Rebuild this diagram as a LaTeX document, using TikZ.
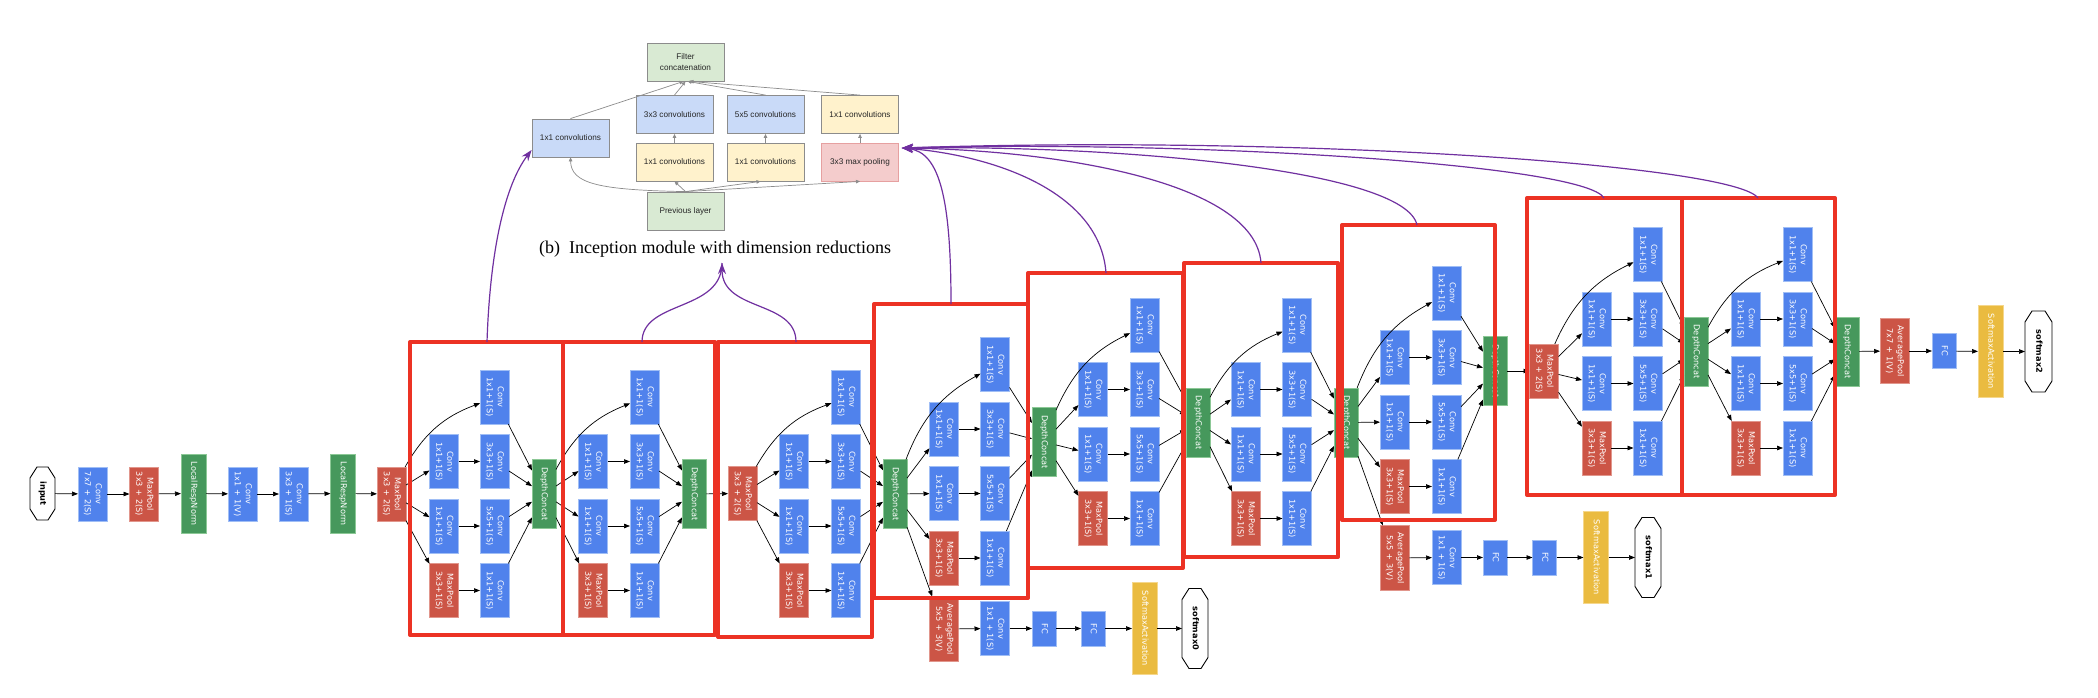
\documentclass[tikz,border=0pt]{standalone}
\usepackage{fontspec}
\setmainfont{Liberation Serif}
\newfontfamily\djv{DejaVu Sans}
\newfontfamily\lsans{Liberation Sans}
\usetikzlibrary{arrows.meta}
\definecolor{gblue}{RGB}{80,130,236}
\definecolor{gblueb}{RGB}{160,190,245}
\definecolor{gred}{RGB}{204,85,70}
\definecolor{gredb}{RGB}{225,150,140}
\definecolor{ggreen}{RGB}{70,152,92}
\definecolor{ggreenb}{RGB}{140,200,150}
\definecolor{gyel}{RGB}{234,187,64}
\definecolor{gyelb}{RGB}{245,215,140}
\definecolor{rboxc}{RGB}{236,50,36}
\definecolor{ppurple}{RGB}{112,48,160}
\definecolor{mgreen}{RGB}{217,234,211}
\definecolor{mblue}{RGB}{201,218,248}
\definecolor{myel}{RGB}{255,242,204}
\definecolor{mpink}{RGB}{244,204,204}
\definecolor{mpinkb}{RGB}{230,160,160}
\definecolor{mgray}{RGB}{140,140,140}
\newcommand{\rtext}[1]{\rotatebox{-90}{\begin{tabular}{@{}c@{}}#1\end{tabular}}}
\newcommand{\nfont}{\djv\fontsize{8.2}{11}\selectfont}
\newcommand{\mfont}{\lsans\fontsize{8.2}{10.5}\selectfont}
\newcommand{\capfont}{\rmfamily\fontsize{18}{20}\selectfont}
\tikzset{
  nbase/.style={rectangle, inner sep=0pt, outer sep=0pt, line width=0.8pt, text=white, font=\nfont},
  bl/.style={nbase, fill=gblue, draw=gblueb, minimum width=29pt, minimum height=54pt},
  rd/.style={nbase, fill=gred, draw=gredb, minimum width=29pt, minimum height=54pt},
  apool/.style={nbase, fill=gred, draw=gredb, minimum width=29pt, minimum height=65pt},
  gc/.style={nbase, fill=ggreen, draw=ggreenb, minimum width=24pt, minimum height=69pt},
  lrn/.style={nbase, fill=ggreen, draw=ggreenb, minimum width=25pt, minimum height=79pt},
  fcn/.style={nbase, fill=gblue, draw=gblueb, minimum width=24pt, minimum height=35pt},
  sma/.style={nbase, fill=gyel, draw=gyelb, minimum width=25pt, minimum height=92pt},
  oct/.style={rectangle, inner sep=0pt, outer sep=0pt, text=black, font=\nfont},
  octl/.style={draw=black, line width=0.9pt, line join=round},
  arr/.style={-{Triangle[length=6pt,width=4.5pt]}, line width=0.7pt, black},
  rbox/.style={draw=rboxc, line width=4pt, line join=round},
  parr/.style={-{Stealth[length=11pt,width=8pt]}, line width=1.2pt, ppurple},
  pline/.style={line width=1.2pt, ppurple},
  mbox/.style={rectangle, draw=mgray, line width=0.8pt, minimum width=77pt, minimum height=38pt, inner sep=1pt, font=\mfont, text=black!85, align=center},
  marr/.style={-{Triangle[length=4pt,width=3.5pt]}, line width=0.7pt, mgray}
}
\newcommand{\octo}[6]{%
  \node[oct, minimum width=#4pt, minimum height=#5pt] (#1) at (#2,-#3) {\rtext{\bfseries #6}};
  \draw[octl] ([xshift=7pt]#1.north west) -- ([xshift=-7pt]#1.north east) -- ([yshift=-11pt]#1.north east) -- ([yshift=11pt]#1.south east) -- ([xshift=-7pt]#1.south east) -- ([xshift=7pt]#1.south west) -- ([yshift=11pt]#1.south west) -- ([yshift=-11pt]#1.north west) -- cycle;}
\newcommand{\incb}[7]{%
  \pgfmathsetmacro{\ya}{#7}\pgfmathsetmacro{\yb}{#7+64.5}%
  \pgfmathsetmacro{\yc}{#7+129}\pgfmathsetmacro{\yd}{#7+193.5}%
  \node[bl] (#1-t) at (#4,-\ya) {\rtext{Conv\\1x1+1(S)}};
  \node[bl] (#1-l2) at (#3,-\yb) {\rtext{Conv\\1x1+1(S)}};
  \node[bl] (#1-r2) at (#4,-\yb) {\rtext{Conv\\3x3+1(S)}};
  \node[bl] (#1-l3) at (#3,-\yc) {\rtext{Conv\\1x1+1(S)}};
  \node[bl] (#1-r3) at (#4,-\yc) {\rtext{Conv\\5x5+1(S)}};
  \node[rd] (#1-l4) at (#3,-\yd) {\rtext{MaxPool\\3x3+1(S)}};
  \node[bl] (#1-r4) at (#4,-\yd) {\rtext{Conv\\1x1+1(S)}};
  \node[gc] (#1-c) at (#5,-#6) {\rtext{DepthConcat}};
  \draw[arr] (#2) to[bend left=20] (#1-t);
  \draw[arr] (#2) -- (#1-l2);
  \draw[arr] (#2) -- (#1-l3);
  \draw[arr] (#2) -- (#1-l4);
  \draw[arr] (#1-l2) -- (#1-r2);
  \draw[arr] (#1-l3) -- (#1-r3);
  \draw[arr] (#1-l4) -- (#1-r4);
  \draw[arr] (#1-t) -- (#1-c);
  \draw[arr] (#1-r2) -- (#1-c);
  \draw[arr] (#1-r3) -- (#1-c);
  \draw[arr] (#1-r4) -- (#1-c);}
\begin{document}
\begin{tikzpicture}[x=1pt,y=1pt]
\useasboundingbox[fill=white] (0,0) rectangle (2098,-698);
% stem
\octo{in0}{42.5}{493.5}{25}{53}{input}
\node[bl] (cv1) at (92.5,-494) {\rtext{Conv\\7x7 + 2(S)}};
\node[rd] (mp1) at (144,-494) {\rtext{MaxPool\\3x3 + 2(S)}};
\node[lrn] (lrn1) at (193.5,-493.5) {\rtext{LocalRespNorm}};
\node[bl] (cv2) at (242.5,-494) {\rtext{Conv\\1x1 + 1(V)}};
\node[bl] (cv3) at (293.5,-494) {\rtext{Conv\\3x3 + 1(S)}};
\node[lrn] (lrn2) at (343,-493.5) {\rtext{LocalRespNorm}};
\node[rd] (mp2) at (391.5,-494) {\rtext{MaxPool\\3x3 + 2(S)}};
\draw[arr] (in0) -- (cv1);
\draw[arr] (cv1) -- (mp1);
\draw[arr] (mp1) -- (lrn1);
\draw[arr] (lrn1) -- (cv2);
\draw[arr] (cv2) -- (cv3);
\draw[arr] (cv3) -- (lrn2);
\draw[arr] (lrn2) -- (mp2);
% inception blocks
\incb{a}{mp2}{444}{494.5}{544}{494}{397}
\incb{b}{a-c}{593}{644.5}{694}{494}{397}
\node[rd] (mp3) at (742.5,-493.5) {\rtext{MaxPool\\3x3 + 2(S)}};
\draw[arr] (b-c) -- (mp3);
\incb{c}{mp3}{794}{846}{895}{494}{397}
\incb{d}{c-c}{944}{995}{1044}{442}{364.5}
\incb{e}{d-c}{1093}{1144.5}{1198}{422.5}{325}
\incb{f}{e-c}{1245.5}{1297}{1346}{422.5}{325}
\incb{g}{f-c}{1394.5}{1446.5}{1495}{371}{293}
\node[rd] (mp4) at (1544,-371) {\rtext{MaxPool\\3x3 + 2(S)}};
\draw[arr] (g-c) -- (mp4);
\incb{h}{mp4}{1596.5}{1648}{1696}{351.5}{254.5}
\incb{i}{h-c}{1745.5}{1797.5}{1847}{351.5}{254.5}
% head
\node[apool] (ap2) at (1894.5,-351) {\rtext{AveragePool\\7x7 + 1(V)}};
\node[fcn] (fc2) at (1944,-351) {\rtext{FC}};
\node[sma] (sa2) at (1990.5,-351.5) {\rtext{SoftmaxActivation}};
\octo{sm2}{2038.5}{351.5}{27}{81}{softmax2}
\draw[arr] (i-c) -- (ap2);
\draw[arr] (ap2) -- (fc2);
\draw[arr] (fc2) -- (sa2);
\draw[arr] (sa2) -- (sm2);
% aux 0
\node[apool] (ap0) at (944,-629) {\rtext{AveragePool\\5x5 + 3(V)}};
\node[bl] (cx0) at (995,-628.5) {\rtext{Conv\\1x1 + 1(S)}};
\node[fcn] (fa0) at (1044,-628.5) {\rtext{FC}};
\node[fcn] (fb0) at (1093,-628.5) {\rtext{FC}};
\node[sma] (sa0) at (1144.5,-628.5) {\rtext{SoftmaxActivation}};
\octo{sm0}{1195}{628.5}{26}{80}{softmax0}
\draw[arr] (c-c) -- (ap0);
\draw[arr] (ap0) -- (cx0);
\draw[arr] (cx0) -- (fa0);
\draw[arr] (fa0) -- (fb0);
\draw[arr] (fb0) -- (sa0);
\draw[arr] (sa0) -- (sm0);
% aux 1
\node[apool] (ap1) at (1394.5,-558) {\rtext{AveragePool\\5x5 + 3(V)}};
\node[bl] (cx1) at (1446.5,-557.5) {\rtext{Conv\\1x1 + 1(S)}};
\node[fcn] (fa1) at (1495,-557.5) {\rtext{FC}};
\node[fcn] (fb1) at (1544.5,-557.5) {\rtext{FC}};
\node[sma] (sa1) at (1596,-557.5) {\rtext{SoftmaxActivation}};
\octo{sm1}{1648}{557.5}{26}{80}{softmax1}
\draw[arr] (f-c) -- (ap1);
\draw[arr] (ap1) -- (cx1);
\draw[arr] (cx1) -- (fa1);
\draw[arr] (fa1) -- (fb1);
\draw[arr] (fb1) -- (sa1);
\draw[arr] (sa1) -- (sm1);
% red boxes
\draw[rbox] (410,-342) rectangle (563,-635);
\draw[rbox] (563,-342) rectangle (715,-635);
\draw[rbox] (718,-342) rectangle (872,-637);
\draw[rbox] (874,-304) rectangle (1028,-598);
\draw[rbox] (1028,-273) rectangle (1183,-568);
\draw[rbox] (1184,-263) rectangle (1338,-557);
\draw[rbox] (1342,-225) rectangle (1495,-520);
\draw[rbox] (1527,-198) rectangle (1682,-495);
\draw[rbox] (1682,-198) rectangle (1835,-495);
% inception module diagram
\node[mbox, fill=mgreen] (fcat) at (685.5,-62) {Filter\\concatenation};
\node[mbox, fill=mblue] (m1) at (570.5,-138) {1x1 convolutions};
\node[mbox, fill=mblue] (m3) at (674.5,-114.5) {3x3 convolutions};
\node[mbox, fill=mblue] (m5) at (765.5,-114.5) {5x5 convolutions};
\node[mbox, fill=myel] (mc) at (860,-114.5) {1x1 convolutions};
\node[mbox, fill=myel] (m3r) at (674.5,-162) {1x1 convolutions};
\node[mbox, fill=myel] (m5r) at (765.5,-162) {1x1 convolutions};
\node[mbox, fill=mpink, draw=mpinkb] (mpl) at (860,-162) {3x3 max pooling};
\node[mbox, fill=mgreen] (prev) at (685.5,-211) {Previous layer};
\draw[marr] (prev.north) .. controls (600,-190) and (571,-184) .. (m1.south);
\draw[marr] (prev.north) -- (m3r.south);
\draw[marr] (prev.north) -- ([xshift=-5pt]m5r.south);
\draw[marr] (prev.north) -- (mpl.south);
\draw[marr] (m3r.north) -- (m3.south);
\draw[marr] (m5r.north) -- (m5.south);
\draw[marr] (mpl.north) -- (mc.south);
\draw[marr] (m1.north) -- ([xshift=-2pt]fcat.south);
\draw[marr] (m3.north) -- (fcat.south);
\draw[marr] (m5.north) -- ([xshift=2pt]fcat.south);
\draw[marr] (mc.north) -- ([xshift=4pt]fcat.south);
\node[font=\capfont, anchor=base, inner sep=0pt] (cap) at (715,-253) {(b)\enspace Inception module with dimension reductions};
% purple connectors
\coordinate (s1) at (487,-342);
\coordinate (s2) at (642,-342);
\coordinate (s3) at (796,-342);
\coordinate (s4) at (951,-304);
\coordinate (s5) at (1106,-273);
\coordinate (s6) at (1261,-263);
\coordinate (s7) at (1417,-225);
\coordinate (s8) at (1604,-198);
\coordinate (s9) at (1758,-198);
\coordinate (tm1) at ([yshift=-12pt]m1.west);
\coordinate (tmp) at ([xshift=3pt,yshift=14pt]mpl.east);
\coordinate (apex) at ([xshift=7pt,yshift=-10pt]cap.base);
\draw[parr] (s1) .. controls (490,-250) and (505,-185) .. (tm1);
\draw[pline] (s2) .. controls (642,-300) and (722,-312) .. (apex);
\draw[parr] (s3) .. controls (796,-300) and (722,-312) .. (apex);
\draw[parr] (s4) .. controls (951,-200) and (940,-152) .. (tmp);
\draw[parr] (s5) .. controls (1100,-190) and (990,-155) .. (tmp);
\draw[parr] (s6) .. controls (1255,-180) and (1050,-150) .. (tmp);
\draw[parr] (s7) .. controls (1405,-170) and (1120,-145) .. (tmp);
\draw[parr] (s8) .. controls (1585,-165) and (1200,-140) .. (tmp);
\draw[parr] (s9) .. controls (1735,-165) and (1300,-135) .. (tmp);
\end{tikzpicture}
\end{document}
